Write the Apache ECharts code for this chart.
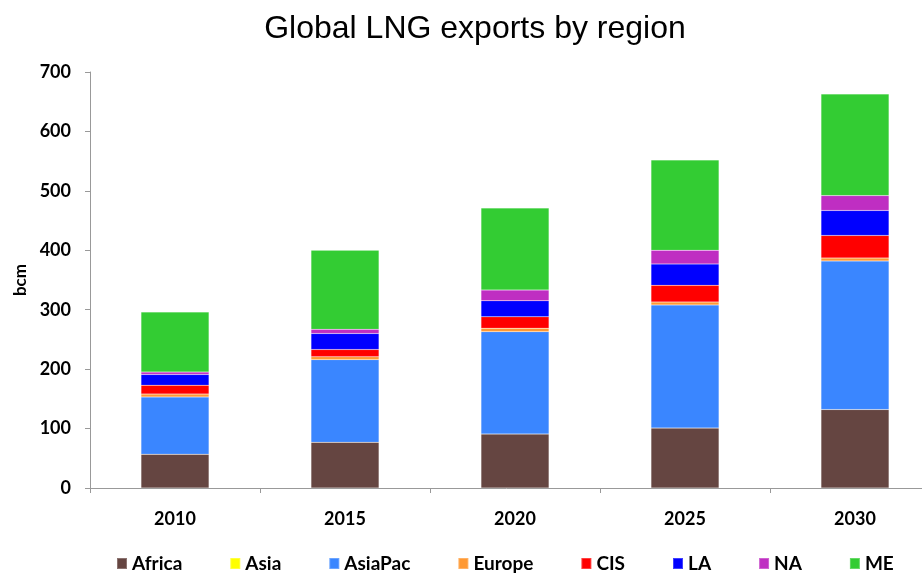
<!DOCTYPE html>
<html>
<head>
<meta charset="utf-8">
<script src="https://cdn.jsdelivr.net/npm/echarts@6/dist/echarts.min.js"></script>
<style>html,body{margin:0;padding:0;background:#fff;}#c{width:922px;height:573px;}</style>
</head>
<body>
<div id="c"></div>
<script>
const categories = ['2010', '2015', '2020', '2025', '2030'];
const africa  = [57, 77, 91, 101, 132];
const asia    = [0, 0, 0, 0, 0];
const asiaPac = [96, 139, 172, 207, 250];
const europe  = [5, 5, 6, 5, 5];
const cis     = [15, 12, 19, 28, 38];
const la      = [18, 27, 27, 36, 42];
const na      = [4, 7, 18, 23, 25];
const me      = [101, 133, 138, 152, 171];
const seriesNames = ['Africa', 'Asia', 'AsiaPac', 'Europe', 'CIS', 'LA', 'NA', 'ME'];
const seriesData = [africa, asia, asiaPac, europe, cis, la, na, me];
const colors = ['#654541', '#FFFF00', '#3A86FF', '#FF9933', '#FF0000', '#0000FF', '#BF2EC2', '#33CC33'];
const yTicks = [0, 100, 200, 300, 400, 500, 600, 700];

const chart = echarts.init(document.getElementById('c'), null, {renderer: 'canvas'});
const labelFont = {fontFamily: 'Lato', fontWeight: 'bold', fontSize: 18, color: '#000'};
chart.setOption({
  animation: false,
  color: colors,
  title: {
    text: 'Global LNG exports by region',
    left: 470, top: 8, textAlign: 'center',
    textStyle: {fontFamily: 'Liberation Sans', fontWeight: 'normal', fontSize: 32, color: '#000'}
  },
  legend: {
    data: seriesNames,
    bottom: -5, left: 111,
    itemWidth: 10, itemHeight: 11, itemGap: 47,
    icon: 'rect',
    textStyle: {fontFamily: 'Lato', fontWeight: 'bold', fontSize: 19, color: '#000', padding: [0, 0, 0, 0]}
  },
  grid: {left: 90, top: 72, width: 850, height: 416, containLabel: false, outerBoundsMode: 'none'},
  xAxis: {
    type: 'category',
    data: categories,
    axisLine: {lineStyle: {color: '#999', width: 1}},
    axisTick: {show: true, length: 5, alignWithLabel: false, lineStyle: {color: '#999'}},
    axisLabel: Object.assign({margin: 22}, labelFont)
  },
  yAxis: {
    type: 'value',
    min: yTicks[0], max: yTicks[yTicks.length - 1], interval: 100,
    name: 'bcm', nameLocation: 'middle', nameGap: 59, nameRotate: 90,
    nameTextStyle: {fontFamily: 'Lato', fontWeight: 'bold', fontSize: 17, color: '#000'},
    axisLine: {show: true, lineStyle: {color: '#999', width: 1}},
    axisTick: {show: true, length: 5, lineStyle: {color: '#999'}},
    splitLine: {show: false},
    axisLabel: Object.assign({margin: 19}, labelFont)
  },
  series: seriesNames.map((n, i) => ({
    name: n,
    type: 'bar',
    stack: 'total',
    barWidth: '40%',
    data: seriesData[i],
    itemStyle: {color: colors[i], borderColor: 'rgba(255,255,255,0.25)', borderWidth: 0.5}
  }))
});
</script>
</body>
</html>
